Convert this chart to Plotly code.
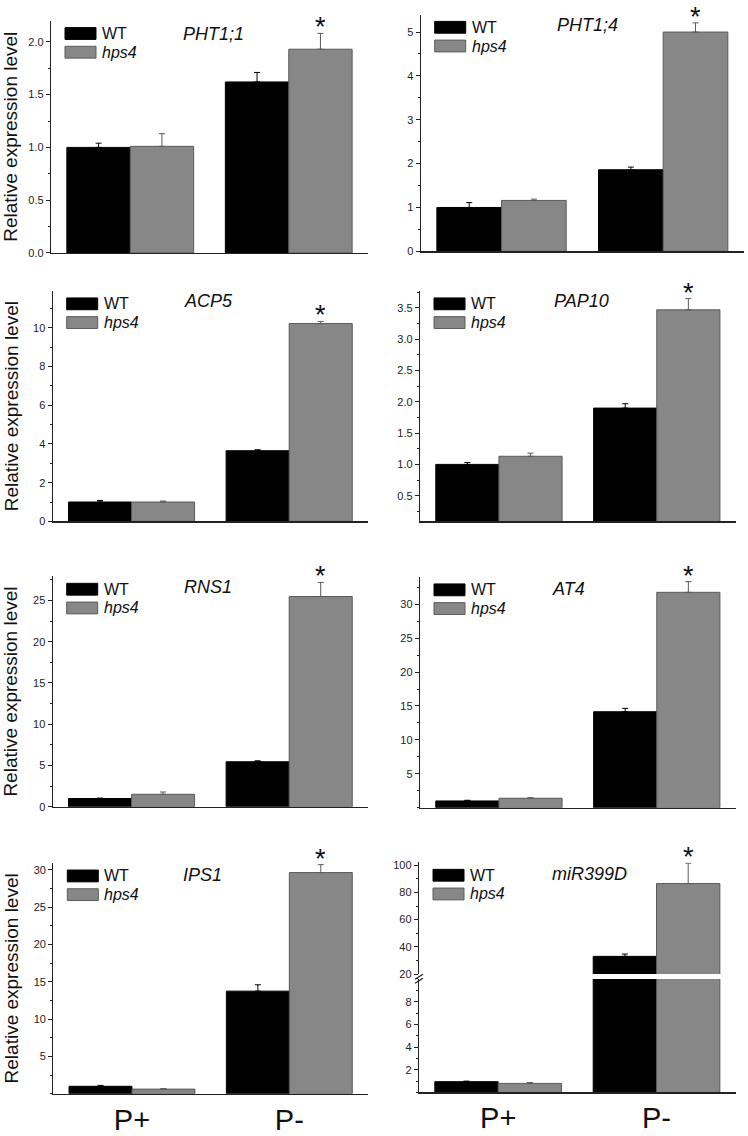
import plotly.graph_objects as go

# ---------------- data ----------------
GENES = ["PHT1;1", "PHT1;4", "ACP5", "PAP10", "RNS1", "AT4", "IPS1", "miR399D"]
CONDITIONS = ["P+", "P-"]

WT_MEAN = [[1.00, 1.62], [1.00, 1.86], [1.00, 3.65], [1.00, 1.90],
           [1.00, 5.45], [1.00, 14.15], [1.00, 13.75], [0.95, 33.0]]
WT_ERR = [[0.04, 0.09], [0.11, 0.06], [0.08, 0.05], [0.03, 0.07],
          [0.05, 0.12], [0.10, 0.50], [0.12, 0.85], [0.05, 1.7]]
HPS4_MEAN = [[1.01, 1.93], [1.16, 5.00], [1.00, 10.22], [1.13, 3.47],
             [1.51, 25.47], [1.40, 31.75], [0.62, 29.64], [0.80, 86.5]]
HPS4_ERR = [[0.12, 0.15], [0.03, 0.21], [0.05, 0.11], [0.05, 0.18],
            [0.28, 1.70], [0.08, 1.58], [0.06, 1.06], [0.07, 15.0]]

Y_RANGES = [[0, 2.2], [0, 5.4], [0, 11.9], [0.09, 3.77],
            [0, 27.9], [0, 34], [0, 30.9], [0, 10]]
Y_TICKS = [[0, 0.5, 1.0, 1.5, 2.0], [0, 1, 2, 3, 4, 5], [0, 2, 4, 6, 8, 10],
           [0.5, 1.0, 1.5, 2.0, 2.5, 3.0, 3.5], [0, 5, 10, 15, 20, 25],
           [5, 10, 15, 20, 25, 30], [5, 10, 15, 20, 25, 30], [2, 4, 6, 8]]
Y_TICKTEXT = [["0.0", "0.5", "1.0", "1.5", "2.0"], ["0", "1", "2", "3", "4", "5"],
              ["0", "2", "4", "6", "8", "10"],
              ["0.5", "1.0", "1.5", "2.0", "2.5", "3.0", "3.5"],
              ["0", "5", "10", "15", "20", "25"],
              ["5", "10", "15", "20", "25", "30"], ["5", "10", "15", "20", "25", "30"],
              ["2", "4", "6", "8"]]
Y_MINOR_STEP = [0.25, 0.5, 1, 0.25, 2.5, 2.5, 2.5, 1]
# upper segment of the broken miR399D axis
UPPER_RANGE = [20, 102]
UPPER_TICKS = [20, 40, 60, 80, 100]
UPPER_MINOR_STEP = 10

SERIES = ["WT", "hps4"]
COLORS = {"WT": "#000000", "hps4": "#878787"}
EDGES = {"WT": "#000000", "hps4": "#5a5a5a"}

# ---------------- layout (pixels) ----------------
W, H = 748, 1136
# left, right, top, bottom of each plot area
PANEL_PX = [(51, 368, 18, 254), (420.7, 744, 11.7, 252.3),
            (52.7, 368, 292.7, 526.7), (420, 735.7, 292.7, 526.7),
            (52.7, 368, 582.7, 816.7), (420, 735.7, 583.3, 817.7),
            (53.3, 368, 874, 1108.3), (419, 735.7, 991.7, 1107)]
UPPER_PX = (986.7, 873.3)  # bottom, top of upper segment of panel 8
TITLE_PX = [(214, 31), (587, 22.5), (208, 303), (581, 302.5),
            (208, 593), (568, 595), (202.5, 886), (589, 885)]

FONT = "Arial, Liberation Sans, sans-serif"
AXIS_COLOR = "#222222"


def px(xp):
    return xp / W


def py(yp):
    return 1 - yp / H


def minor_vals(rng, step, majors):
    vals = []
    v = 0.0
    while v <= rng[1] + 1e-9:
        if v >= rng[0] - 1e-9 and all(abs(v - m) > 1e-9 for m in majors):
            vals.append(round(v, 6))
        v += step
    return vals


fig = go.Figure()
layout = dict(
    width=W, height=H, margin=dict(l=0, r=0, t=0, b=0),
    paper_bgcolor="white", plot_bgcolor="white",
    barmode="group", bargap=0.2, bargroupgap=0.0,
    showlegend=False, font=dict(family=FONT, color="#222"),
)
annotations = []
shapes = []

for i, gene in enumerate(GENES):
    n = i + 1
    xname = "xaxis" if n == 1 else f"xaxis{n}"
    yname = "yaxis" if n == 1 else f"yaxis{n}"
    xref = "x" if n == 1 else f"x{n}"
    yref = "y" if n == 1 else f"y{n}"
    l, r, t, b = PANEL_PX[i]
    bottom_row = i >= 6

    layout[xname] = dict(
        domain=[px(l), px(r)], anchor=yref, type="category", range=[-0.5, 1.5],
        showline=True, linecolor=AXIS_COLOR, linewidth=1.2, ticks="",
        showgrid=False, zeroline=False, showticklabels=bottom_row,
        ticklabelstandoff=0,
        tickfont=dict(size=29, family=FONT, color="#111"),
    )
    layout[yname] = dict(
        domain=[py(b), py(t)], anchor=xref, range=Y_RANGES[i],
        showline=True, linecolor=AXIS_COLOR, linewidth=1.2,
        ticks="outside", ticklen=4, tickwidth=1, tickcolor=AXIS_COLOR,
        tickmode="array", tickvals=Y_TICKS[i], ticktext=Y_TICKTEXT[i],
        tickfont=dict(size=11, family=FONT, color="#222"),
        minor=dict(ticks="outside", ticklen=2, tickwidth=1, tickcolor=AXIS_COLOR,
                   tickmode="array",
                   tickvals=minor_vals(Y_RANGES[i], Y_MINOR_STEP[i], Y_TICKS[i])),
        showgrid=False, zeroline=False,
    )

    yrefs = [yref]
    star_yref = yref
    if gene == "miR399D":
        layout["yaxis9"] = dict(
            domain=[py(UPPER_PX[0]), py(UPPER_PX[1])], anchor=xref, range=UPPER_RANGE,
            showline=True, linecolor=AXIS_COLOR, linewidth=1.2,
            ticks="outside", ticklen=4, tickwidth=1, tickcolor=AXIS_COLOR,
            tickmode="array", tickvals=UPPER_TICKS,
            ticktext=[str(v) for v in UPPER_TICKS],
            tickfont=dict(size=11, family=FONT, color="#222"),
            minor=dict(ticks="outside", ticklen=2, tickwidth=1, tickcolor=AXIS_COLOR,
                       tickmode="array",
                       tickvals=minor_vals(UPPER_RANGE, UPPER_MINOR_STEP, UPPER_TICKS)),
            showgrid=False, zeroline=False,
        )
        yrefs.append("y9")
        star_yref = "y9"
        # break marks on the axis
        for dy in (0, 4):
            shapes.append(dict(type="line", xref="paper", yref="paper",
                               x0=px(l - 4), y0=py(992 + dy), x1=px(l + 4), y1=py(987 + dy),
                               line=dict(color=AXIS_COLOR, width=1.2)))

    for ya in yrefs:
        for s, mean, err in (("WT", WT_MEAN[i], WT_ERR[i]), ("hps4", HPS4_MEAN[i], HPS4_ERR[i])):
            fig.add_trace(go.Bar(
                x=CONDITIONS, y=mean, name=s, xaxis=xref, yaxis=ya,
                marker=dict(color=COLORS[s], line=dict(color=EDGES[s], width=1)),
                error_y=dict(type="data", array=err, arrayminus=[0, 0], symmetric=False,
                             color=EDGES[s] if s == "hps4" else "#000",
                             thickness=1, width=3),
                showlegend=False, hoverinfo="skip",
            ))

    # significance star above hps4 P-
    annotations.append(dict(
        x=1.2, y=HPS4_MEAN[i][1] + HPS4_ERR[i][1], xref=xref, yref=star_yref,
        text="*", showarrow=False, yanchor="bottom", yshift=-11,
        font=dict(size=27, family=FONT, color="#111"),
    ))
    # gene title
    tx, ty = TITLE_PX[i]
    annotations.append(dict(
        x=px(tx), y=py(ty), xref="paper", yref="paper", text=f"<i>{gene}</i>",
        showarrow=False, xanchor="center", yanchor="middle",
        font=dict(size=18, family=FONT, color="#111"),
    ))
    # legend boxes and labels
    top = t if gene != "miR399D" else UPPER_PX[1]
    for k, s in enumerate(SERIES):
        y0 = top + 7 + k * 19
        shapes.append(dict(type="rect", xref="paper", yref="paper",
                           x0=px(l + 14), x1=px(l + 45), y0=py(y0 + 12), y1=py(y0),
                           fillcolor=COLORS[s], line=dict(color=EDGES[s], width=1)))
        annotations.append(dict(
            x=px(l + 49), y=py(y0 + 6), xref="paper", yref="paper",
            text=s if s == "WT" else f"<i>{s}</i>", showarrow=False,
            xanchor="left", yanchor="middle",
            font=dict(size=16, family=FONT, color="#111"),
        ))
    # y-axis title for the left column
    if i % 2 == 0:
        annotations.append(dict(
            x=px(11), y=py((t + b) / 2), xref="paper", yref="paper",
            text="Relative expression level", textangle=-90, showarrow=False,
            xanchor="center", yanchor="middle", borderpad=0,
            font=dict(size=19, family=FONT, color="#111"),
        ))

layout["annotations"] = annotations
layout["shapes"] = shapes
fig.update_layout(**layout)
fig.write_html(
    "out.html",
    config={"displayModeBar": False, "staticPlot": True},
    post_script="document.body.style.margin='0';document.body.style.overflow='hidden';",
)
